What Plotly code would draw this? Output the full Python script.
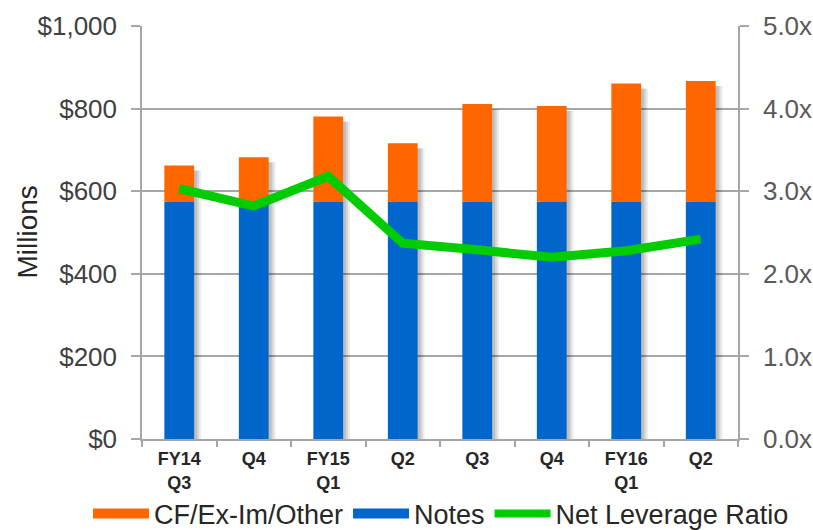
import plotly.graph_objects as go

categories = ["FY14<br>Q3", "Q4", "FY15<br>Q1", "Q2", "Q3", "Q4", "FY16<br>Q1", "Q2"]
notes = [575, 575, 575, 575, 575, 575, 575, 575]
cf_exim_other = [87, 107, 206, 141, 236, 231, 286, 292]
net_leverage = [3.03, 2.82, 3.18, 2.37, 2.29, 2.20, 2.28, 2.42]

FONT = "Liberation Sans, Arial, sans-serif"
GRID = "#A6A6A6"
ORANGE = "#FF6600"
BLUE = "#0066CC"
GREEN = "#00CC00"

W, H = 813, 530
ML, MR, MT, MB = 142, 75, 26, 91
PW = W - ML - MR
PH = H - MT - MB
BAR_W = 0.4
PX = len(categories) / PW          # one pixel in category units
PXY = 1000 / PH                    # one pixel in $ units

# unique category ids so repeated quarter names stay separate
ids = [f"p{i}" for i in range(len(categories))]
totals = [n + c for n, c in zip(notes, cf_exim_other)]

fig = go.Figure()

# soft drop shadow to the right of each bar
for dx, alpha in [(7, 0.07), (5, 0.09), (3, 0.11)]:
    fig.add_trace(go.Bar(x=ids, y=[t - 5 * PXY for t in totals], width=BAR_W,
                         offset=-BAR_W / 2 + dx * PX,
                         marker=dict(color=f"rgba(0,0,0,{alpha})", line=dict(width=0)),
                         showlegend=False, hoverinfo="skip"))

fig.add_trace(go.Bar(x=ids, y=notes, name="Notes", marker=dict(color=BLUE, line=dict(width=0)),
                     width=BAR_W, showlegend=False, legendgroup="notes"))
fig.add_trace(go.Bar(x=ids, y=cf_exim_other, base=notes, name="CF/Ex-Im/Other",
                     marker=dict(color=ORANGE, line=dict(width=0)), width=BAR_W,
                     showlegend=False, legendgroup="cf"))
fig.add_trace(go.Scatter(x=ids, y=net_leverage, name="Net Leverage Ratio", yaxis="y2",
                         mode="lines", line=dict(color=GREEN, width=9), showlegend=False,
                         legendgroup="nlr"))

# legend entries (wide swatches like the original)
for name, color, grp, w in [("CF/Ex-Im/Other", ORANGE, "cf", 13),
                            ("Notes", BLUE, "notes", 13),
                            ("Net Leverage Ratio", GREEN, "nlr", 8)]:
    fig.add_trace(go.Scatter(x=[None], y=[None], name=name, mode="lines",
                             line=dict(color=color, width=w), legendgroup=grp, showlegend=True))

fig.update_layout(
    width=W, height=H,
    barmode="overlay",
    plot_bgcolor="white", paper_bgcolor="white",
    margin=dict(l=ML, r=MR, t=MT, b=MB, autoexpand=False),
    font=dict(family=FONT, color="#404040"),
    showlegend=True,
    legend=dict(orientation="h", x=(88 - ML) / PW, xanchor="left",
                y=-(514 - (H - MB)) / PH, yanchor="middle",
                bgcolor="rgba(0,0,0,0)",
                font=dict(size=27, color="#262626"), traceorder="normal",
                itemwidth=56, tracegroupgap=0),
    xaxis=dict(
        tickmode="array", tickvals=ids, ticktext=categories,
        showline=True, linecolor=GRID, linewidth=1.5,
        ticks="outside", tickson="boundaries", ticklen=6, tickcolor=GRID, tickwidth=1.5,
        tickfont=dict(size=18, color="#262626", family=FONT, weight="bold"),
        ticklabelstandoff=3, automargin=False,
        showgrid=False,
    ),
    yaxis=dict(
        range=[0, 1000], dtick=200, tickprefix="$", tickformat=",",
        showline=True, linecolor=GRID, linewidth=1.5,
        ticks="outside", ticklen=9, tickcolor=GRID, tickwidth=1.5,
        showgrid=True, gridcolor=GRID, gridwidth=1.8,
        tickfont=dict(size=26, color="#404040"),
        ticklabelstandoff=9, automargin=False,
        zeroline=False,
    ),
    yaxis2=dict(
        range=[0, 5], dtick=1, tickformat=".1f", ticksuffix="x",
        overlaying="y", side="right",
        showline=True, linecolor=GRID, linewidth=1.5,
        ticks="outside", ticklen=9, tickcolor=GRID, tickwidth=1.5,
        showgrid=False, zeroline=False,
        tickfont=dict(size=26, color="#595959"),
        ticklabelstandoff=9, automargin=False,
    ),
    annotations=[dict(text="Millions", textangle=-90, x=(27 - ML) / PW, xref="paper",
                      y=0.5, yref="paper", xanchor="center", yanchor="middle", showarrow=False,
                      font=dict(size=28, color="#262626"))],
)

fig.write_html("out.html", config={"displayModeBar": False},
               post_script="document.body.style.margin='0';")
